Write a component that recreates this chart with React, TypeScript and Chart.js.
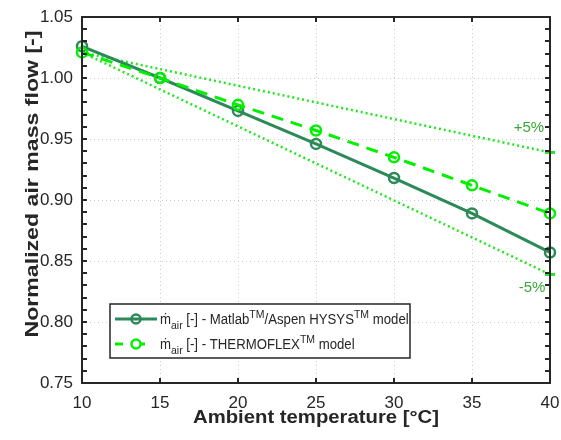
import React, { useEffect, useRef } from "react";
import { Chart, registerables } from "chart.js";

Chart.register(...registerables);

const temperatures = [10, 15, 20, 25, 30, 35, 40];
const matlabFlow = [1.026, 1.0, 0.973, 0.946, 0.918, 0.889, 0.857];
const thermoflexFlow = [1.021, 1.0, 0.978, 0.957, 0.935, 0.912, 0.889];
const bandTemps = [10, 40];
const plus5Flow = [1.021, 0.939];
const minus5Flow = [1.021, 0.839];
const yTickLabels = ["0.75", "0.80", "0.85", "0.90", "0.95", "1.00", "1.05"];
const xTitle = "Ambient temperature [°C]";
const yTitle = "Normalized air mass flow [-]";

const FONT = "'Liberation Sans', Arial, Helvetica, sans-serif";
const AXIS = "#262626";
const MATLAB_COLOR = "#2b8a57";
const THERMO_COLOR = "#00f000";
const BAND_COLOR = "#22e622";
const LABEL_GREEN = "#36a836";

function stretchedText(ctx: any, text: string, cx: number, cy: number, rot: number, size: number, targetLen: number) {
  ctx.save();
  ctx.font = `bold ${size}px ${FONT}`;
  const w = ctx.measureText(text).width;
  ctx.translate(cx, cy);
  ctx.rotate(rot);
  ctx.scale(targetLen / w, 1);
  ctx.textAlign = "center";
  ctx.textBaseline = "middle";
  ctx.fillStyle = AXIS;
  ctx.fillText(text, 0, 0);
  ctx.restore();
}

const framePlugin = {
  id: "frame",
  afterDraw(chart: any) {
    const { ctx, chartArea: a, scales } = chart;
    const xs = scales.x;
    const ys = scales.y;
    ctx.save();
    ctx.strokeStyle = AXIS;
    ctx.lineWidth = 2;
    ctx.beginPath();
    for (let i = 1; i < 30; i++) {
      const v = 0.75 + i * 0.01;
      const py = Math.round(ys.getPixelForValue(v));
      ctx.moveTo(a.left, py);
      ctx.lineTo(a.left + 5, py);
      ctx.moveTo(a.right, py);
      ctx.lineTo(a.right - 5, py);
    }
    for (let t = 15; t < 40; t += 5) {
      const px = Math.round(xs.getPixelForValue(t));
      ctx.moveTo(px, a.bottom);
      ctx.lineTo(px, a.bottom - 5);
      ctx.moveTo(px, a.top);
      ctx.lineTo(px, a.top + 5);
    }
    ctx.stroke();
    ctx.strokeRect(a.left, a.top, a.right - a.left, a.bottom - a.top);

    stretchedText(ctx, xTitle, (a.left + a.right) / 2, 418, 0, 18, 246);
    stretchedText(ctx, yTitle, 33, 184, -Math.PI / 2, 18, 307);

    ctx.fillStyle = LABEL_GREEN;
    ctx.font = `15px ${FONT}`;
    ctx.textAlign = "center";
    ctx.textBaseline = "middle";
    ctx.fillText("+5%", xs.getPixelForValue(38.65), ys.getPixelForValue(0.959));
    ctx.fillText("-5%", xs.getPixelForValue(38.85), ys.getPixelForValue(0.828));

    const lx = 110, ly = 304, lw = 300, lh = 54;
    ctx.fillStyle = "#ffffff";
    ctx.fillRect(lx, ly, lw, lh);
    ctx.lineWidth = 1.5;
    ctx.strokeStyle = AXIS;
    ctx.strokeRect(lx, ly, lw, lh);

    const rows = [
      { y: 319, color: MATLAB_COLOR, dash: [] as number[], parts: [["n", "ṁ"], ["sub", "air"], ["n", " [-] - Matlab"], ["sup", "TM"], ["n", "/Aspen HYSYS"], ["sup", "TM"], ["n", " model"]] },
      { y: 344, color: THERMO_COLOR, dash: [8, 14], parts: [["n", "ṁ"], ["sub", "air"], ["n", " [-] - THERMOFLEX"], ["sup", "TM"], ["n", " model"]] },
    ];
    for (const r of rows) {
      ctx.strokeStyle = r.color;
      ctx.lineWidth = 3;
      ctx.setLineDash(r.dash);
      ctx.beginPath();
      ctx.moveTo(115, r.y);
      ctx.lineTo(157, r.y);
      ctx.stroke();
      ctx.setLineDash([]);
      ctx.lineWidth = 2.5;
      ctx.fillStyle = "#ffffff";
      ctx.beginPath();
      ctx.arc(136, r.y, 4.5, 0, Math.PI * 2);
      if (r.dash.length) ctx.fill();
      ctx.stroke();
      let x = 160;
      ctx.fillStyle = AXIS;
      ctx.textAlign = "left";
      ctx.textBaseline = "alphabetic";
      for (const [kind, text] of r.parts) {
        let dy = 5;
        if (kind === "n") { ctx.font = `13.2px ${FONT}`; dy = 5; }
        else if (kind === "sub") { ctx.font = `10.5px ${FONT}`; dy = 10; }
        else { ctx.font = `10.5px ${FONT}`; dy = -1; }
        ctx.save();
        ctx.translate(x, r.y + dy);
        ctx.scale(1, 1.12);
        ctx.fillText(text, 0, 0);
        ctx.restore();
        x += ctx.measureText(text).width;
      }
    }
    ctx.restore();
  },
};

export default function App() {
  const ref = useRef<HTMLCanvasElement | null>(null);
  useEffect(() => {
    if (!ref.current) return;
    const chart = new Chart(ref.current, {
      type: "line",
      data: {
        datasets: [
          {
            label: "THERMOFLEX",
            data: temperatures.map((t, i) => ({ x: t, y: thermoflexFlow[i] })),
            borderColor: THERMO_COLOR,
            backgroundColor: "rgba(0,0,0,0)",
            borderWidth: 3,
            borderDash: [12, 8],
            pointRadius: 5,
            pointBorderWidth: 2.5,
            pointBorderColor: THERMO_COLOR,
            pointBackgroundColor: "rgba(0,0,0,0)",
            clip: false,
          },
          {
            label: "Matlab",
            data: temperatures.map((t, i) => ({ x: t, y: matlabFlow[i] })),
            borderColor: MATLAB_COLOR,
            backgroundColor: "rgba(0,0,0,0)",
            borderWidth: 3,
            pointRadius: 5,
            pointBorderWidth: 2.5,
            pointBorderColor: MATLAB_COLOR,
            pointBackgroundColor: "rgba(0,0,0,0)",
            clip: false,
          },
          {
            label: "+5%",
            data: bandTemps.map((t, i) => ({ x: t, y: plus5Flow[i] })),
            borderColor: BAND_COLOR,
            borderWidth: 2.5,
            borderDash: [2, 3],
            pointStyle: "line",
            pointRadius: [0, 5],
            pointBorderWidth: 3,
            pointBorderColor: BAND_COLOR,
            clip: false,
          },
          {
            label: "-5%",
            data: bandTemps.map((t, i) => ({ x: t, y: minus5Flow[i] })),
            borderColor: BAND_COLOR,
            borderWidth: 2.5,
            borderDash: [2, 3],
            pointStyle: "line",
            pointRadius: [0, 5],
            pointBorderWidth: 3,
            pointBorderColor: BAND_COLOR,
            clip: false,
          },
        ] as any,
      },
      options: {
        animation: false,
        responsive: true,
        maintainAspectRatio: false,
        layout: { padding: { top: 17, right: 11, left: 0, bottom: 0 } },
        plugins: { legend: { display: false }, tooltip: { enabled: false } },
        scales: {
          x: {
            type: "linear",
            min: 10,
            max: 40,
            afterFit: (s: any) => { s.height = 57; s.paddingLeft = 0; s.paddingRight = 0; },
            ticks: { stepSize: 5, color: AXIS, font: { family: FONT, size: 17 }, padding: 10, maxRotation: 0 },
            grid: { color: "#cccccc", drawTicks: false, lineWidth: 1 },
            border: { display: false, dash: [1, 3] },
            title: { display: false },
          },
          y: {
            type: "linear",
            min: 0.75,
            max: 1.05,
            afterFit: (s: any) => { s.width = 82; s.paddingTop = 0; s.paddingBottom = 0; },
            afterBuildTicks: (s: any) => { s.ticks = yTickLabels.map((l) => ({ value: parseFloat(l) })); },
            ticks: { color: AXIS, font: { family: FONT, size: 17 }, padding: 9, callback: (v: any) => yTickLabels.find((l) => Math.abs(parseFloat(l) - v) < 1e-6) ?? "" },
            grid: { color: "#cccccc", drawTicks: false, lineWidth: 1 },
            border: { display: false, dash: [1, 3] },
            title: { display: false },
          },
        },
      } as any,
      plugins: [framePlugin],
    });
    return () => chart.destroy();
  }, []);
  return (
    <div style={{ position: "absolute", left: 0, top: 0, width: 561, height: 440, background: "#fff" }}>
      <canvas ref={ref} />
    </div>
  );
}
